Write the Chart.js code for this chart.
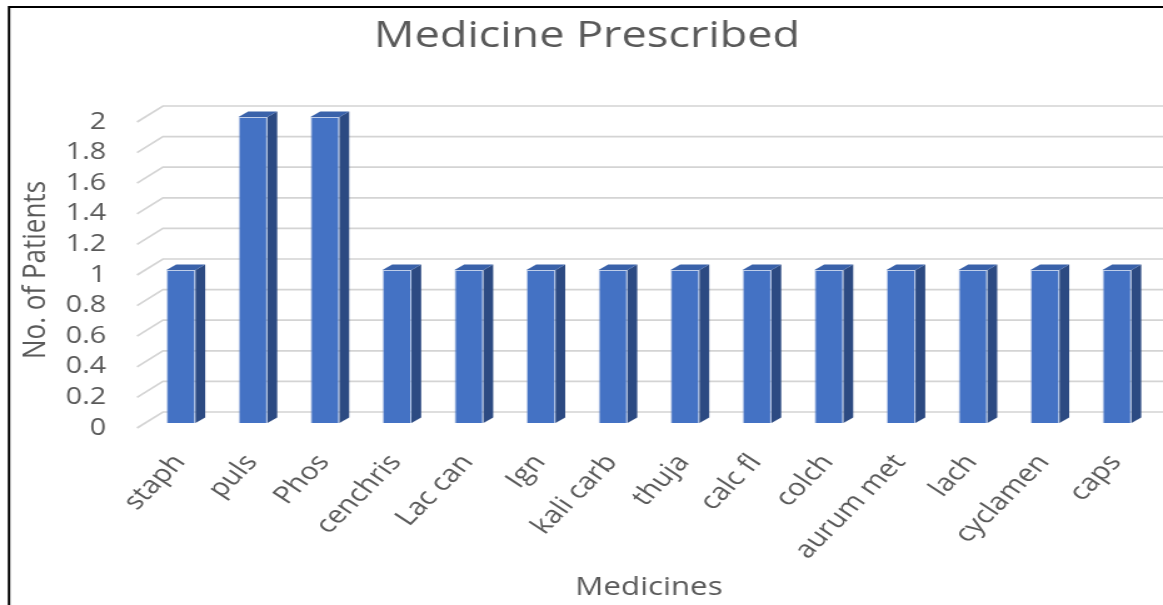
<!DOCTYPE html>
<html>
<head>
<meta charset="utf-8">
<script src="https://cdn.jsdelivr.net/npm/chart.js@4/dist/chart.umd.min.js"></script>
<style>
  html, body { margin: 0; padding: 0; background: #ffffff; overflow: hidden; }
  #c { display: block; transform: scaleX(1.2505); transform-origin: 0 0; }
</style>
</head>
<body>
<canvas id="c" width="930" height="605" style="width:930px;height:605px;"></canvas>
<script>
const categories = ['staph', 'puls', 'Phos', 'cenchris', 'Lac can', 'Ign', 'kali carb', 'thuja', 'calc fl', 'colch', 'aurum met', 'lach', 'cyclamen', 'caps'];
const patients = [1, 2, 2, 1, 1, 1, 1, 1, 1, 1, 1, 1, 1, 1];
const yTickLabels = ['0', '0.2', '0.4', '0.6', '0.8', '1', '1.2', '1.4', '1.6', '1.8', '2'];
const chartTitle = 'Medicine Prescribed';
const xTitle = 'Medicines';
const yTitle = 'No. of Patients';

const FONT = '"Open Sans", "DejaVu Sans", sans-serif';
const TEXT = '#595959';

const threeD = {
  id: 'threeD',
  beforeDatasetsDraw(chart) {
    const ctx = chart.ctx;
    const y = chart.scales.y;
    const backX = 130.3, frontX = 109.6;
    ctx.save();
    ctx.strokeStyle = '#d4d4d4';
    ctx.lineWidth = 1.7;
    y.ticks.forEach(t => {
      const py = y.getPixelForValue(t.value);
      ctx.beginPath();
      ctx.moveTo(frontX, py + 5);
      ctx.lineTo(backX, py - 11);
      ctx.lineTo(chart.width, py - 11);
      ctx.stroke();
    });
    ctx.restore();
  },
  afterDatasetsDraw(chart) {
    const ctx = chart.ctx;
    const meta = chart.getDatasetMeta(0);
    const dx = 7.8, dy = 5.5;
    ctx.save();
    meta.data.forEach(bar => {
      const l = bar.x - bar.width / 2, r = bar.x + bar.width / 2;
      const top = bar.y, base = bar.base;
      ctx.fillStyle = '#2c4a82';
      ctx.beginPath();
      ctx.moveTo(r, top);
      ctx.lineTo(r + dx, top - dy);
      ctx.lineTo(r + dx, base - dy);
      ctx.lineTo(r, base);
      ctx.closePath();
      ctx.fill();
      ctx.fillStyle = '#3a62aa';
      ctx.beginPath();
      ctx.moveTo(l, top);
      ctx.lineTo(l + dx, top - dy);
      ctx.lineTo(r + dx, top - dy);
      ctx.lineTo(r, top);
      ctx.closePath();
      ctx.fill();
    });
    ctx.restore();
  },
  afterDraw(chart) {
    const ctx = chart.ctx;
    ctx.save();
    ctx.fillStyle = TEXT;
    ctx.font = '36px ' + FONT;
    ctx.textAlign = 'center';
    ctx.textBaseline = 'alphabetic';
    ctx.fillText(chartTitle, 469.4, 47);
    ctx.strokeStyle = '#000000';
    ctx.lineWidth = 2;
    ctx.beginPath();
    ctx.moveTo(7.2, chart.height);
    ctx.lineTo(7.2, 7);
    ctx.lineTo(chart.width, 7);
    ctx.stroke();
    ctx.restore();
  }
};

new Chart(document.getElementById('c'), {
  type: 'bar',
  data: {
    labels: categories,
    datasets: [{
      data: patients,
      backgroundColor: '#4472c4',
      borderColor: 'rgba(125,155,212,0.5)',
      borderWidth: 1,
      barPercentage: 0.403,
      categoryPercentage: 1
    }]
  },
  options: {
    responsive: false,
    animation: false,
    devicePixelRatio: 1,
    layout: { padding: { left: 0, right: 8, top: 117, bottom: 0 } },
    plugins: {
      legend: { display: false },
      tooltip: { enabled: false },
      title: { display: false }
    },
    scales: {
      x: {
        type: 'category',
        offset: true,
        grid: { display: false, drawTicks: false },
        border: { display: false },
        ticks: {
          color: TEXT,
          font: { family: FONT, size: 24 },
          minRotation: 51,
          maxRotation: 51,
          padding: 26,
          labelOffset: -1,
          autoSkip: false
        },
        title: {
          display: true,
          text: xTitle,
          color: TEXT,
          font: { family: FONT, size: 25 },
          padding: { top: 0, bottom: 2 }
        },
        afterFit(scale) {
          scale.height = 182;
          scale.paddingLeft = 0;
          scale.paddingRight = 0;
        }
      },
      y: {
        min: 0,
        max: 2,
        grid: { display: false, drawTicks: false },
        border: { display: false },
        ticks: {
          stepSize: 0.2,
          color: TEXT,
          font: { family: FONT, size: 23 },
          padding: 31,
          labelOffset: 5,
          callback: (v, i) => yTickLabels[i]
        },
        title: {
          display: true,
          text: yTitle,
          color: TEXT,
          font: { family: FONT, size: 26 },
          padding: { top: 13, bottom: 0 }
        },
        afterFit(scale) { scale.width = 115.9; }
      }
    }
  },
  plugins: [threeD]
});
</script>
</body>
</html>
